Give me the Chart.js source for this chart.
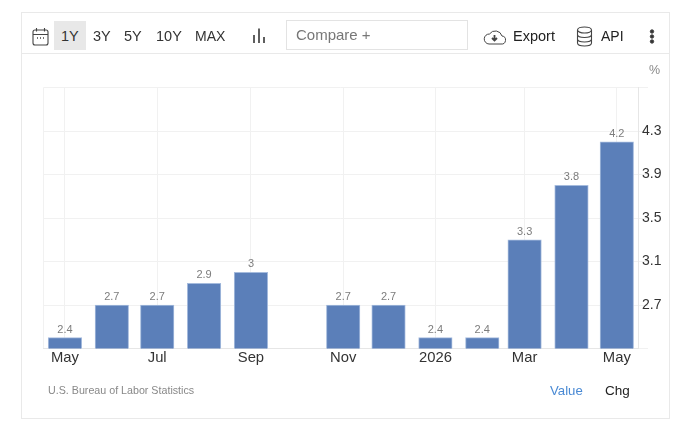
<!DOCTYPE html>
<html>
<head>
<meta charset="utf-8">
<script src="https://cdn.jsdelivr.net/npm/chart.js@4"></script>
<style>
    html, body { margin: 0; padding: 0; background: #fff; }
    body { width: 680px; height: 427px; position: relative; overflow: hidden; font-family: "Liberation Sans", sans-serif; }
    #c { position: absolute; left: 0; top: 0; }
    .frame { position: absolute; left: 21px; top: 12px; width: 649px; height: 407px; border: 1px solid #e9e9e9; box-sizing: border-box; }
    .sep { position: absolute; left: 22px; top: 53px; width: 647px; height: 1px; background: #e9e9e9; }
    .t { position: absolute; white-space: nowrap; line-height: 18px; color: #333; font-size: 14.5px; }
    .on { position: absolute; left: 54px; top: 21px; width: 32px; height: 29px; background: #e8e8e8; }
    .box { position: absolute; left: 286px; top: 20px; width: 182px; height: 30px; border: 1px solid #e3e3e3; box-sizing: border-box; }
    svg { position: absolute; fill: none; stroke: #444; }
</style>
</head>
<body>
<canvas id="c" width="680" height="427"></canvas>
<div class="frame"></div>
<div class="sep"></div>
<div class="on"></div>
<div class="box"></div>

<svg style="left:31px;top:27px" width="19" height="20" viewBox="0 0 19 20" stroke-width="1.1">
    <rect x="2" y="3" width="15" height="15" rx="2"/><path d="M2 7.5H17M5.5 1V4.5M13.5 1V4.5"/><path d="M6 11H7M9 11H10M12 11H13" stroke-width="1.4"/>
</svg>
<svg style="left:251px;top:27px" width="16" height="17" viewBox="0 0 16 17" stroke-width="1.7">
    <path d="M3 16V8M8 16V1.5M13 16V10"/>
</svg>
<svg style="left:483px;top:27px" width="23" height="19" viewBox="0 0 23 19" stroke-width="1">
    <path d="M6 17H18A4 4 0 0 0 19 9 A7 7 0 0 0 6.5 7 A5 5 0 0 0 6 17Z"/><path d="M11.5 8V13M9 11L11.5 13.5L14 11" stroke-width="1.8"/>
</svg>
<svg style="left:576px;top:26px" width="17" height="21" viewBox="0 0 17 21" stroke-width="1.1">
    <ellipse cx="8.5" cy="4" rx="7" ry="3"/><path d="M1.5 4V17C1.5 19 5 20 8.5 20S15.5 19 15.5 17V4M1.5 8.5C1.5 10.5 5 11.5 8.5 11.5S15.5 10.5 15.5 8.5M1.5 13C1.5 15 5 16 8.5 16S15.5 15 15.5 13"/>
</svg>
<svg style="left:649px;top:29px" width="6" height="15" viewBox="0 0 6 15" stroke="none">
    <circle cx="3" cy="2.5" r="1.7" fill="#333"/><circle cx="3" cy="7.5" r="1.7" fill="#333"/><circle cx="3" cy="12.5" r="1.7" fill="#333"/>
</svg>

<div class="t" style="left:61px;top:27px">1Y</div>
<div class="t" style="left:93px;top:27px">3Y</div>
<div class="t" style="left:124px;top:27px">5Y</div>
<div class="t" style="left:156px;top:27px">10Y</div>
<div class="t" style="left:195px;top:27px;font-size:14px">MAX</div>
<div class="t" style="left:296px;top:26px;color:#777;font-size:15px">Compare +</div>
<div class="t" style="left:513px;top:27px;font-size:14.5px;color:#222">Export</div>
<div class="t" style="left:601px;top:27px;font-size:14px;color:#222">API</div>
<div class="t" style="left:649px;top:61px;color:#888;font-size:12.5px">%</div>
<div class="t" style="left:48px;top:381px;color:#888;font-size:10.7px">U.S. Bureau of Labor Statistics</div>
<div class="t" style="left:550px;top:382px;color:#4a8ad4;font-size:13.2px">Value</div>
<div class="t" style="left:605px;top:382px;color:#222;font-size:13.5px">Chg</div>

<script>
// days since 1 May 2025, one per monthly release
var days = [0, 31, 61, 92, 123, 153, 184, 214, 245, 276, 304, 335, 365];
var values = [2.4, 2.7, 2.7, 2.9, 3, null, 2.7, 2.7, 2.4, 2.4, 3.3, 3.8, 4.2];
var xTickDays = [-14.2, 0, 61, 123, 184, 245, 304, 365, 379];
var xTickLabels = ['', 'May', 'Jul', 'Sep', 'Nov', '2026', 'Mar', 'May', ''];
var yTicks = [2.3, 2.7, 3.1, 3.5, 3.9, 4.3, 4.7];
var yTickLabels = ['', '2.7', '3.1', '3.5', '3.9', '4.3', ''];

var gridColor = '#f1f1f1';
var axisColor = '#e6e6e6';

var barLabels = {
    id: 'barLabels',
    afterDatasetsDraw: function(chart){
        var ctx = chart.ctx;
        ctx.save();
        ctx.font = '11px "Liberation Sans"';
        ctx.fillStyle = '#7c7c7c';
        ctx.textAlign = 'center';
        ctx.textBaseline = 'bottom';
        chart.getDatasetMeta(0).data.forEach(function(bar, i){
            if (values[i] === null) return;
            ctx.fillText(String(values[i]), bar.x, bar.y - 2.5);
        });
        ctx.restore();
    }
};

new Chart(document.getElementById('c').getContext('2d'), {
    type: 'bar',
    data: {
        datasets: [{
            data: days.map(function(d, i){ return {x: d, y: values[i]}; }),
            backgroundColor: '#5b7fb9',
            borderColor: '#a5bbdd',
            borderWidth: 1,
            borderSkipped: false,
            barThickness: 33.5
        }]
    },
    plugins: [barLabels],
    options: {
        responsive: false,
        animation: false,
        layout: {padding: {left: 43.5, top: 87.5, right: 0, bottom: 0}},
        plugins: {legend: {display: false}, tooltip: {enabled: false}},
        scales: {
            x: {
                type: 'linear',
                offset: false,
                min: -14.2,
                max: 379,
                afterFit: function(s){ s.height = 78.5; },
                afterBuildTicks: function(s){
                    s.ticks = xTickDays.map(function(d){ return {value: d}; });
                },
                grid: {offset: false, color: gridColor, drawTicks: false},
                border: {color: axisColor},
                ticks: {
                    autoSkip: false,
                    maxRotation: 0,
                    padding: 1,
                    color: '#333',
                    font: {family: 'Liberation Sans', size: 14.8},
                    callback: function(v, i){ return xTickLabels[i]; }
                }
            },
            y: {
                position: 'right',
                min: 2.3,
                max: 4.7,
                afterFit: function(s){ s.width = 42; },
                afterBuildTicks: function(s){
                    s.ticks = yTicks.map(function(v){ return {value: v}; });
                },
                grid: {color: gridColor, tickColor: gridColor, tickLength: 10},
                border: {color: axisColor},
                ticks: {
                    padding: -6,
                    color: '#333',
                    font: {family: 'Liberation Sans', size: 14},
                    callback: function(v, i){ return yTickLabels[i]; }
                }
            }
        }
    }
});
</script>
</body>
</html>
